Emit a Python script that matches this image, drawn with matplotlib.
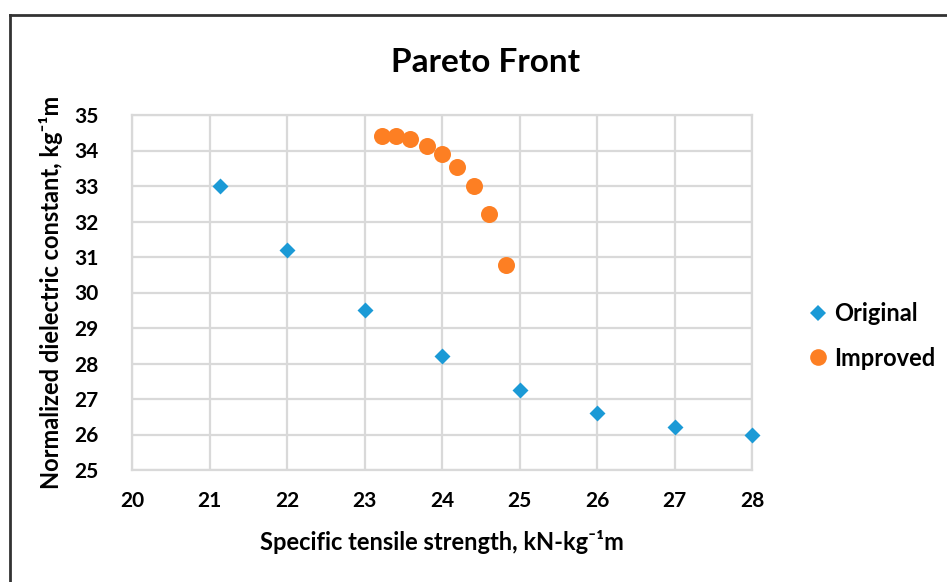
import matplotlib
matplotlib.use("Agg")
import matplotlib.pyplot as plt
from matplotlib.lines import Line2D

plt.rcParams['font.family'] = ['Lato', 'DejaVu Sans']
plt.rcParams['font.weight'] = 'bold'

original_x = [21.14, 22.0, 23.0, 24.0, 25.0, 26.0, 27.0, 28.0]
original_y = [33.0, 31.2, 29.5, 28.2, 27.25, 26.6, 26.2, 26.0]
improved_x = [23.22, 23.40, 23.59, 23.80, 24.0, 24.19, 24.41, 24.60, 24.83]
improved_y = [34.40, 34.40, 34.32, 34.14, 33.90, 33.53, 32.99, 32.20, 30.77]
x_ticks = [20, 21, 22, 23, 24, 25, 26, 27, 28]
y_ticks = [25, 26, 27, 28, 29, 30, 31, 32, 33, 34, 35]

blue = '#1b9ad6'
orange = '#fd7f23'
grid = '#d9d9d9'

fig = plt.figure(figsize=(9.47, 5.82), dpi=100)
ax = fig.add_axes([132/947, 1-470/582, (752-132)/947, (470-115)/582])

ax.scatter(original_x, original_y, marker='D', s=66, color=blue, zorder=3, linewidths=0, clip_on=False)
ax.scatter(improved_x, improved_y, marker='o', s=150, color=orange, zorder=3, linewidths=0, clip_on=False)

ax.set_xlim(20, 28)
ax.set_ylim(25, 35)
ax.set_xticks(x_ticks)
ax.set_yticks(y_ticks)
ax.grid(True, color=grid, linewidth=1.6)
ax.set_axisbelow(True)
for s in ax.spines.values():
    s.set_color(grid)
    s.set_linewidth(1.6)
ax.tick_params(length=0, labelsize=15, pad=15)
ax.tick_params(axis='y', pad=24)
for lbl in ax.get_xticklabels() + ax.get_yticklabels():
    lbl.set_fontweight('bold')

ax.set_xlabel('Specific tensile strength, kN-kg\u207b\u00b9m', fontsize=17, fontweight='bold', labelpad=14)
ax.set_ylabel('Normalized dielectric constant, kg\u207b\u00b9m', fontsize=17, fontweight='bold', labelpad=8)
fig.text(486/947, 1-62/582, 'Pareto Front', ha='center', va='center', fontsize=24, fontweight='bold')

handles = [Line2D([], [], marker='D', linestyle='none', color=blue, markersize=8, markeredgewidth=0),
           Line2D([], [], marker='o', linestyle='none', color=orange, markersize=12, markeredgewidth=0)]
fig.legend(handles, ['Original', 'Improved'], loc='center left', bbox_to_anchor=(806/947, 1-336/582),
           frameon=False, prop={'size': 17, 'weight': 'bold'}, handletextpad=0.2, labelspacing=0.9,
           handlelength=1.0, borderpad=0, borderaxespad=0)

# outer frame lines
fig.add_artist(Line2D([10/947, 10/947], [0, 1-15/582], transform=fig.transFigure, color='#333333', linewidth=2))
fig.add_artist(Line2D([10/947, 1], [1-15/582, 1-15/582], transform=fig.transFigure, color='#333333', linewidth=2))

fig.savefig('out.png', dpi=100)
